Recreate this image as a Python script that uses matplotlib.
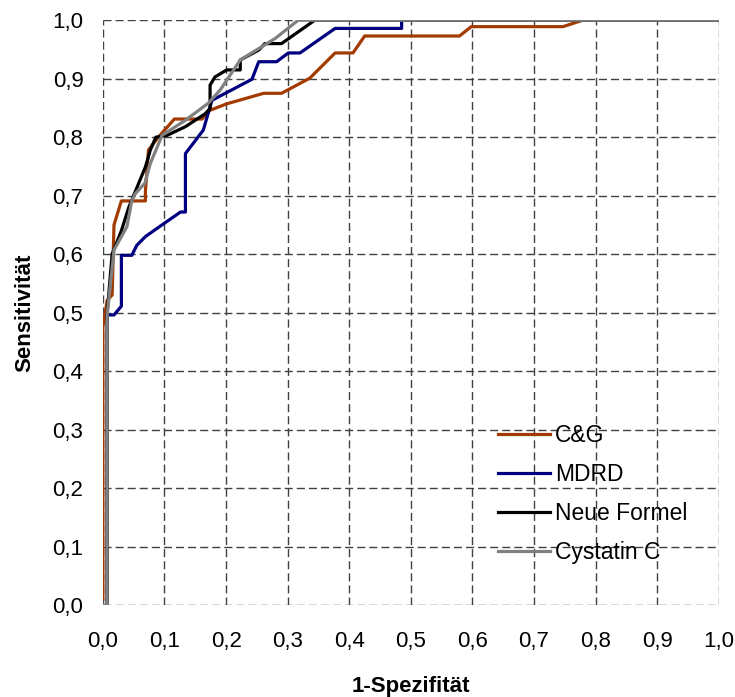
import numpy as np
import matplotlib
matplotlib.use('Agg')
import matplotlib.pyplot as plt

plt.rcParams['font.family'] = ['Liberation Sans', 'DejaVu Sans']

# ROC-Kurven
cg_x = [0.0, 0.0, 0.007, 0.015, 0.018, 0.03, 0.069, 0.069, 0.074, 0.082, 0.09, 0.116, 0.161,
        0.174, 0.201, 0.261, 0.29, 0.336, 0.377, 0.406, 0.425, 0.579, 0.598, 0.747, 0.779, 1.0]
cg_y = [0.01, 0.476, 0.521, 0.53, 0.65, 0.691, 0.691, 0.707, 0.778, 0.789, 0.80, 0.831, 0.831,
        0.846, 0.857, 0.875, 0.875, 0.901, 0.944, 0.944, 0.973, 0.973, 0.989, 0.989, 1.0, 1.0]

mdrd_x = [0.007, 0.007, 0.018, 0.03, 0.03, 0.047, 0.055, 0.069, 0.096, 0.126, 0.134, 0.134,
          0.163, 0.166, 0.177, 0.242, 0.253, 0.282, 0.301, 0.32, 0.377, 0.485, 0.485, 1.0]
mdrd_y = [0.0, 0.496, 0.496, 0.511, 0.598, 0.598, 0.615, 0.63, 0.65, 0.672, 0.672, 0.772,
          0.812, 0.823, 0.863, 0.899, 0.929, 0.929, 0.944, 0.944, 0.986, 0.986, 1.0, 1.0]

neu_x = [0.007, 0.007, 0.015, 0.03, 0.042, 0.069, 0.077, 0.086, 0.104, 0.134, 0.166, 0.174,
         0.174, 0.182, 0.201, 0.223, 0.223, 0.253, 0.263, 0.29, 0.344, 1.0]
neu_y = [0.0, 0.5, 0.6, 0.64, 0.68, 0.749, 0.778, 0.80, 0.803, 0.818, 0.84, 0.849,
         0.889, 0.903, 0.915, 0.915, 0.932, 0.949, 0.96, 0.96, 1.0, 1.0]

cys_x = [0.0, 0.007, 0.007, 0.018, 0.039, 0.047, 0.053, 0.068, 0.077, 0.096, 0.134, 0.171,
         0.19, 0.223, 0.28, 0.317, 1.0]
cys_y = [0.0, 0.0, 0.496, 0.607, 0.647, 0.692, 0.704, 0.721, 0.755, 0.803, 0.829, 0.858,
         0.88, 0.932, 0.969, 1.0, 1.0]

ticks = np.arange(0, 11) / 10
tick_labels = ['0,0', '0,1', '0,2', '0,3', '0,4', '0,5', '0,6', '0,7', '0,8', '0,9', '1,0']

fig = plt.figure(figsize=(7.35, 6.97), dpi=100)
ax = fig.add_axes([0.140, 0.132, 0.838, 0.839])

ax.plot(cg_x, cg_y, color='#A33A00', lw=2.3, label='C&G')
ax.plot(mdrd_x, mdrd_y, color='#000080', lw=2.3, label='MDRD')
ax.plot(neu_x, neu_y, color='black', lw=2.3, label='Neue Formel')
ax.plot(cys_x, cys_y, color='#808080', lw=2.3, label='Cystatin C')

ax.set_xlim(0, 1)
ax.set_ylim(0, 1)
ax.set_xticks(ticks)
ax.set_yticks(ticks)
ax.set_xticklabels(tick_labels)
ax.set_yticklabels(tick_labels)
ax.tick_params(axis='x', length=0, labelsize=16, pad=19)
ax.tick_params(axis='y', length=0, labelsize=16, pad=14)
ax.grid(True, linestyle=(0, (5.8, 2.9)), color='#404040', lw=1)
ax.set_axisbelow(True)
for s in ax.spines.values():
    s.set_visible(False)

ax.set_xlabel('1-Spezifität', fontsize=16, fontweight='bold', labelpad=17)
ax.set_ylabel('Sensitivität', fontsize=16, fontweight='bold', labelpad=12)

ax.legend(loc='upper left', bbox_to_anchor=(0.641, 0.31), frameon=False, fontsize=16.5,
          handlelength=2.3, labelspacing=0.7, handletextpad=0.2, borderaxespad=0,
          borderpad=0)

fig.savefig('out.png', dpi=100)
